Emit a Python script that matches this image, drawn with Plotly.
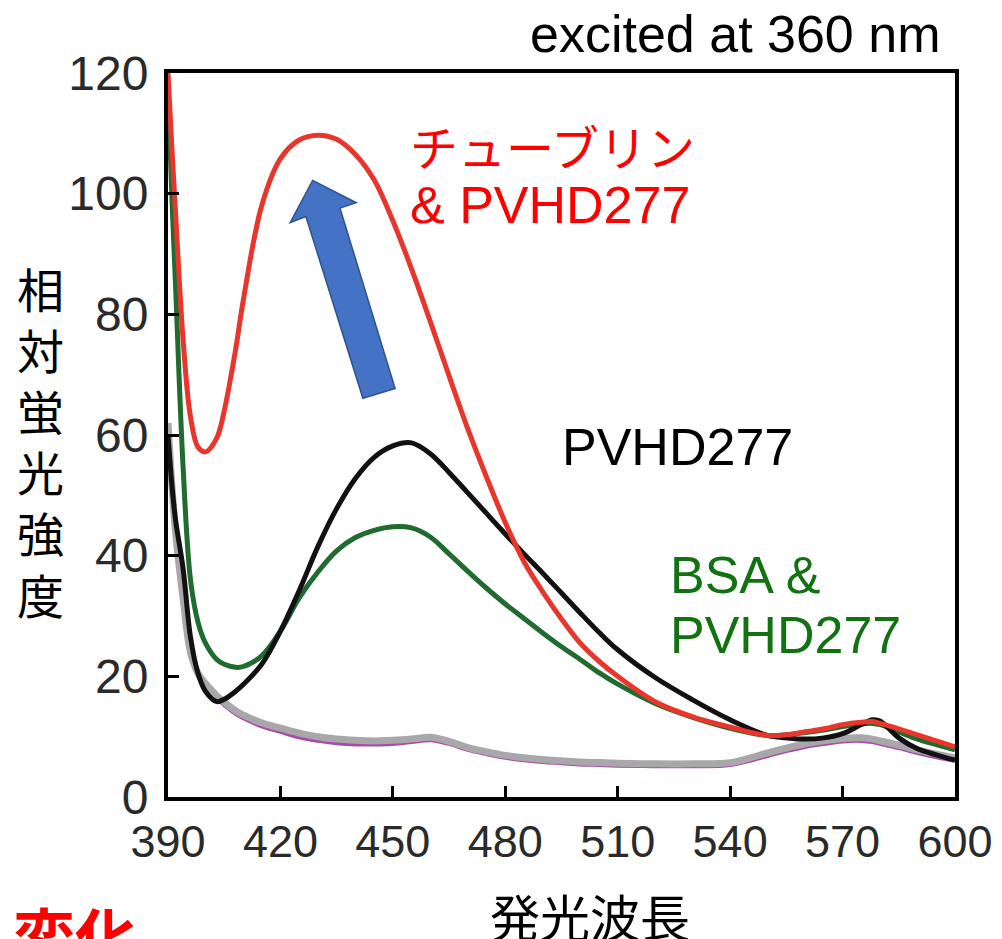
import plotly.graph_objects as go

wavelength = [390, 391, 392, 394, 396, 398, 400, 403, 405, 408, 410, 415, 420, 425, 430,
              435, 440, 445, 450, 455, 460, 465, 470, 475, 480, 485, 490, 495, 500, 505,
              510, 520, 530, 540, 550, 555, 560, 565, 570, 575, 578, 580, 585, 590, 595, 600]

tubulin_pvhd = [120, 108, 97, 76, 63, 58, 57.2, 59.5, 64, 74, 82, 98, 105.8, 108.9, 109.7,
                109, 106.5, 102.3, 95.5, 87.5, 78.8, 69.8, 61, 53, 45.5, 39, 34, 29.5, 25.5, 22.5,
                20, 15.8, 13.3, 11.6, 10.2, 10.3, 10.8, 11.3, 12, 12.4, 12.5, 12.2, 11.3, 10.3, 9.3, 8.3]

pvhd = [60, 52, 46, 38, 26.5, 20.5, 17.5, 15.8, 16.2, 17.5, 18.6, 22, 27.5, 34.2, 41.5,
        47.8, 52.8, 56.3, 58.2, 58.7, 56.9, 53.8, 50.4, 47, 43.6, 40.3, 37.1, 33.8, 30.5, 27.3,
        24.4, 19.8, 16.1, 12.8, 10.2, 9.8, 9.6, 9.8, 10.5, 12, 12.8, 12.6, 9.8, 8, 7, 6.1]

bsa_pvhd = [118, 100, 85, 55, 36, 29, 25.5, 22.8, 22, 21.5, 21.6, 23.4, 27.5, 33, 37.3,
            40.8, 43, 44.2, 44.8, 44.6, 43.1, 40.3, 37.4, 34.6, 32, 29.6, 27.2, 24.9, 22.8, 20.6,
            18.7, 15.5, 13.2, 11.4, 10.2, 10.3, 10.7, 11.1, 11.7, 12.1, 12.2, 12, 10.8, 9.6, 8.7, 7.8]

control_gray = [62, 52, 44, 33, 24, 20.5, 18.8, 16.8, 15.7, 14.3, 13.6, 12.3, 11.4, 10.6, 10,
                9.6, 9.4, 9.3, 9.4, 9.6, 9.9, 9.2, 8.2, 7.5, 6.9, 6.5, 6.2, 6.0, 5.8, 5.7,
                5.6, 5.5, 5.5, 5.7, 7.3, 8.1, 8.8, 9.3, 9.7, 9.8, 9.6, 9.3, 8.6, 7.8, 7.1, 6.5]

control_purple = [61, 51, 43, 32, 23.5, 20, 18.3, 16.3, 15.2, 13.8, 13.1, 11.7, 10.8, 9.9, 9.3,
                  8.9, 8.7, 8.7, 8.8, 9.1, 9.4, 8.8, 7.8, 7.1, 6.5, 6.1, 5.8, 5.6, 5.4, 5.3,
                  5.2, 5.1, 5.1, 5.3, 6.8, 7.6, 8.3, 8.8, 9.2, 9.3, 9.1, 8.8, 8.1, 7.3, 6.6, 6.0]

x_ticks = [390, 420, 450, 480, 510, 540, 570, 600]
y_ticks = [0, 20, 40, 60, 80, 100, 120]

LATIN = "Liberation Sans, Arial, sans-serif"
CJK = "Noto Sans CJK JP, sans-serif"

fig = go.Figure()
series = [
    (control_purple, "#a64ca6", 4),
    (control_gray, "#a9a7aa", 7),
    (bsa_pvhd, "#1f6b30", 5),
    (pvhd, "#111111", 5),
    (tubulin_pvhd, "#e8362c", 5),
]
for vals, col, w in series:
    fig.add_trace(go.Scatter(x=wavelength, y=vals, mode="lines",
                             line=dict(color=col, width=w, shape="spline", smoothing=1.0),
                             showlegend=False, hoverinfo="skip"))

# blue arrow (decoration)
fig.add_shape(type="path", xref="x", yref="y",
              path="M 428.6 102.2 L 440.2 98.5 L 435.9 97.6 L 450.6 67.7 L 442.0 66.1 L 426.8 96.2 L 422.6 95.2 Z",
              fillcolor="#4472c4", line=dict(color="#2f528f", width=1.5))

axis_common = dict(showline=True, linecolor="black", linewidth=4, mirror=True,
                   ticks="inside", ticklen=11, tickwidth=3, tickcolor="black",
                   showgrid=False, zeroline=False)

fig.update_layout(
    width=1002, height=939,
    margin=dict(l=160, r=55, t=65, b=150),
    paper_bgcolor="white", plot_bgcolor="white",
    xaxis=dict(range=[390, 600], tickvals=x_ticks, ticktext=[str(v) for v in x_ticks],
               ticklabelstandoff=2, tickfont=dict(family=LATIN, size=45, color="#2a2a2a"),
               **axis_common),
    yaxis=dict(range=[0, 120], tickvals=y_ticks, ticktext=[str(v) for v in y_ticks],
               ticklabelstandoff=6, tickfont=dict(family=LATIN, size=48, color="#2a2a2a"),
               **axis_common),
)

ann = [
    dict(text="excited at 360 nm", x=0.983, y=1.054, xanchor="right", yanchor="middle",
         font=dict(family=LATIN, size=52, color="black")),
    dict(text="チューブリン", x=0.305, y=0.9006, xanchor="left", yanchor="middle",
         font=dict(family=CJK, size=48, color="#ff0000")),
    dict(text="& PVHD277", x=0.305, y=0.8177, xanchor="left", yanchor="middle",
         font=dict(family=LATIN, size=52, color="#ff0000")),
    dict(text="PVHD277", x=0.498, y=0.4834, xanchor="left", yanchor="middle",
         font=dict(family=LATIN, size=52, color="black")),
    dict(text="BSA &", x=0.635, y=0.3066, xanchor="left", yanchor="middle",
         font=dict(family=LATIN, size=52, color="#127212")),
    dict(text="PVHD277", x=0.635, y=0.2238, xanchor="left", yanchor="middle",
         font=dict(family=LATIN, size=52, color="#127212")),
    dict(text="相<br>対<br>蛍<br>光<br>強<br>度", x=-0.1626, y=0.493, xanchor="center", yanchor="middle",
         font=dict(family=CJK, size=47, color="black")),
    dict(text="発光波長", x=0.536, y=-0.163, xanchor="center", yanchor="middle",
         font=dict(family=CJK, size=50, color="black")),
    dict(text="<b>変化</b>", x=-0.200, y=-0.1245, xanchor="left", yanchor="top",
         font=dict(family=CJK, size=62, color="#ff0000")),
]
for a in ann:
    fig.add_annotation(xref="paper", yref="paper", showarrow=False, **a)

fig.write_html("out.html")
